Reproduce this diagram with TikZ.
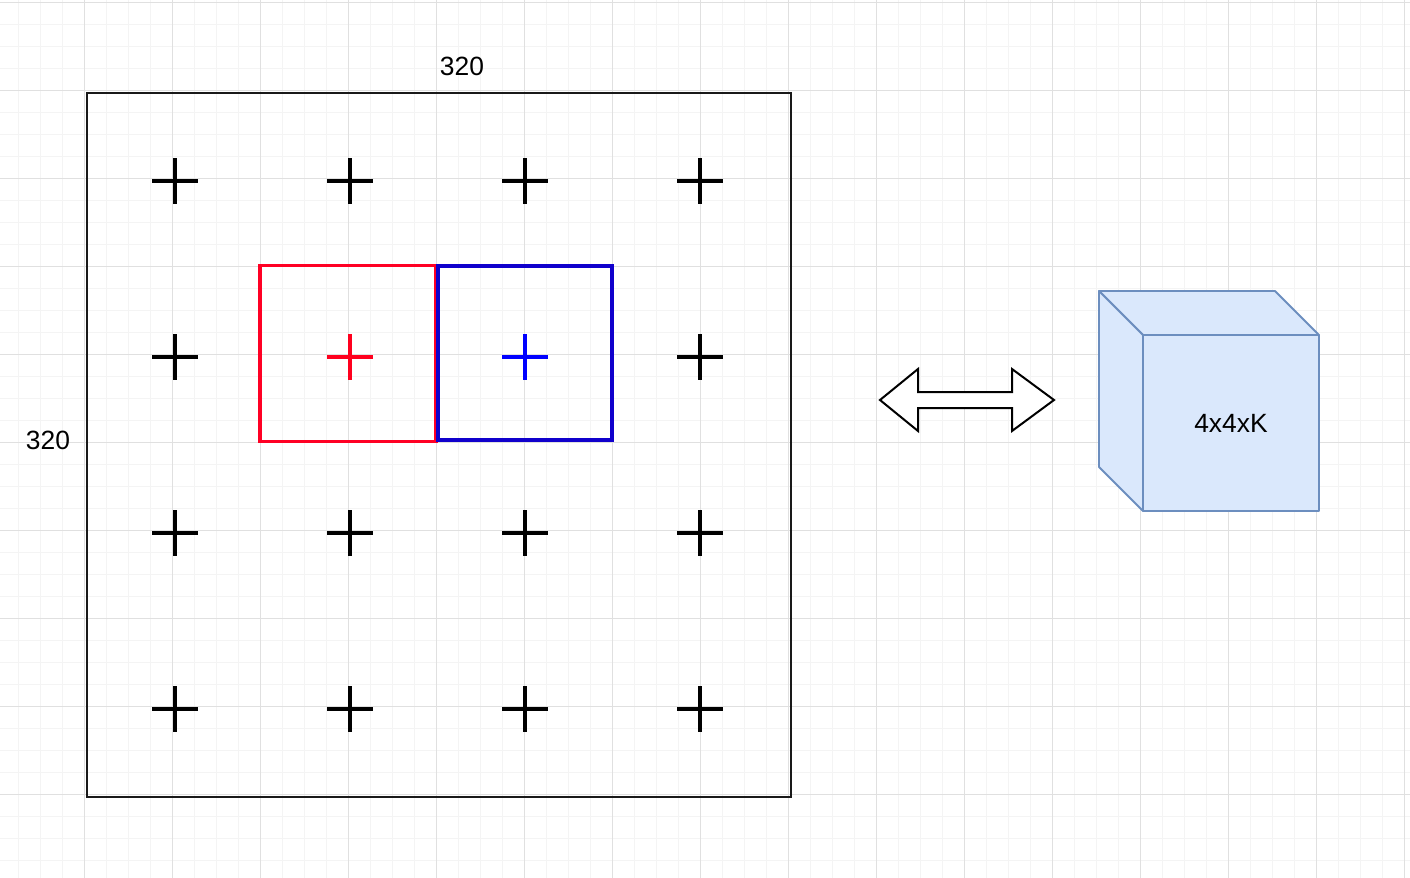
\documentclass[tikz,border=0pt]{standalone}
\usepackage{fontspec}
\setmainfont{Liberation Sans}
\usepackage{tikz}
\usetikzlibrary{shapes,positioning,calc}
\definecolor{gridmajor}{RGB}{224,224,224}
\definecolor{gridminor}{RGB}{244,244,244}
\definecolor{winred}{RGB}{255,0,36}
\definecolor{winblue}{RGB}{16,0,204}
\definecolor{crossred}{RGB}{255,0,30}
\definecolor{crossblue}{RGB}{0,0,255}
\definecolor{cubefill}{HTML}{DAE8FC}
\definecolor{cubedraw}{HTML}{6C8EBF}

\begin{document}
\begin{tikzpicture}[x=0.5pt,y=-0.5pt,% one unit = one pixel of the page, y going down
			every node/.style={
				align=center,		% so that "\\" breaks lines
				inner sep=0pt,
				font=\fontsize{13.2}{16}\selectfont
			},
			win/.style={rectangle,draw,line width=1.8pt,minimum width=88pt,minimum height=88pt},
			cross/.style={line width=1.6pt},
			cubeface/.style={draw=cubedraw,fill=cubefill,line width=0.9pt,line join=round}
		]
		\useasboundingbox (0,0) rectangle (1410,878);
		% background grid
		\foreach \k in {0,...,64} \draw[gridminor,line width=0.5pt] ({-4+22*\k},0) -- ({-4+22*\k},878);
		\foreach \k in {0,...,40} \draw[gridminor,line width=0.5pt] (0,{2+22*\k}) -- (1410,{2+22*\k});
		\foreach \k in {1,...,16} \draw[gridmajor,line width=0.5pt] ({-4+88*\k},0) -- ({-4+88*\k},878);
		\foreach \k in {0,...,9} \draw[gridmajor,line width=0.5pt] (0,{2+88*\k}) -- (1410,{2+88*\k});

		% the 320 x 320 image
		\node[rectangle,draw=black!90,line width=1pt,minimum size=352pt](R1) at (439,445){};
		\node(L1) at (462,66){320};
		\node(L2) at (48,440){320};
		\foreach \i in {0,...,3}{
			\foreach \j in {0,...,3}{
				\pgfmathtruncatemacro\hide{(\j==1)&&(\i==1||\i==2)}
				\ifnum\hide=0
				\draw[cross] ({175*(\i+1)-23},{181+176*\j}) -- ++(46,0) ({175*(\i+1)},{158+176*\j}) -- ++(0,46);
				\fi
			}
		}
		% two neighbouring windows
		\node[win,draw=winred](R2) at (348,353.5){};
		\node[win,draw=winblue,minimum width=87pt,minimum height=87pt](R3) at (525,353){};
		\draw[cross,crossred] (327,357) -- ++(46,0) (350,334) -- ++(0,46);
		\draw[cross,crossblue] (502,357) -- ++(46,0) (525,334) -- ++(0,46);

		% double arrow
		\coordinate(R4) at (967,400);
		\draw[line width=1pt,fill=white,line join=miter] ($(R4)+(-87,0)$) -- ++(38,-31) -- ++(0,23) -- ++(94,0) -- ++(0,-23)
			-- ++(42,31) -- ++(-42,31) -- ++(0,-23) -- ++(-94,0) -- ++(0,23) -- cycle;

		% feature cube
		\node[rectangle,cubeface,outer sep=0pt,minimum size=88pt](R5) at (1231,423){};
		\draw[cubeface] (R5.north west) -- ++(-44,-44) -- ++(176,0) -- (R5.north east) -- cycle;
		\draw[cubeface] (R5.north west) -- ++(-44,-44) -- ++(0,176) -- (R5.south west) -- cycle;
		\node(L3) at (R5.center){4x4xK};
	\end{tikzpicture}
\end{document}
